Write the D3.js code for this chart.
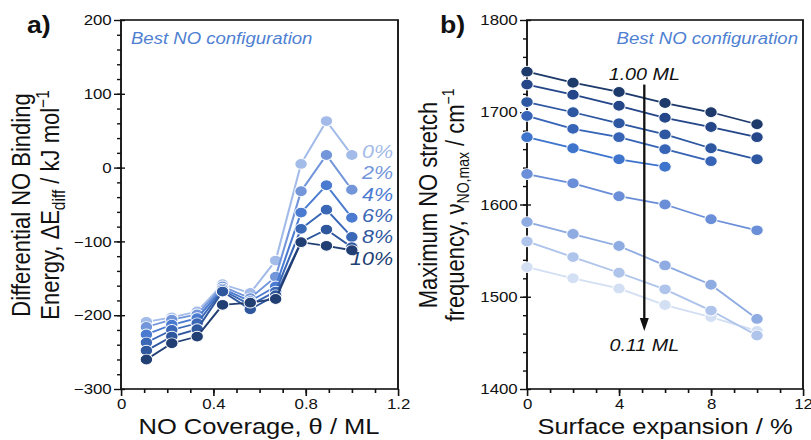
<!DOCTYPE html>
<html>
<head>
<meta charset="utf-8">
<script src="https://cdn.jsdelivr.net/npm/d3@7"></script>
<style>
  html, body { margin: 0; padding: 0; background: #fff; }
  svg { display: block; }
  text { font-family: "Liberation Sans", Arial, sans-serif; fill: #111; }
  .tick text { font-size: 14.5px; }
  .title { font-size: 22px; }
  .note { font-style: italic; }
</style>
</head>
<body>
<svg id="plot"></svg>
<script>
// the source figure is stretched sideways, so draw in a narrower box and let viewBox stretch it
var sx = 1.16;
var width = 811 / sx;
var height = 440;

// panel a: differential binding energy vs coverage, one line per surface expansion
var coverage = [0.11, 0.22, 0.33, 0.44, 0.56, 0.67, 0.78, 0.89, 1.00];
var expansionLabels = ["0%", "2%", "4%", "6%", "8%", "10%"];
var energy0  = [-209, -203, -195, -158, -170, -126,    5,   63,   17];
var energy2  = [-216, -206, -199, -161, -177, -148,  -32,   17,  -30];
var energy4  = [-226, -213, -204, -164, -181, -161,  -61,  -24,  -68];
var energy6  = [-237, -220, -211, -166, -186, -168,  -83,  -57,  -94];
var energy8  = [-248, -229, -219, -168, -192, -173, -101,  -84, -108];
var energy10 = [-260, -238, -229, -186, -183, -178, -101, -106, -112];
var colorsA = ["#a3bbe8", "#7396da", "#4a7bd0", "#3a67b6", "#2f579e", "#223f74"];

// panel b: max NO stretch frequency vs surface expansion, one line per coverage
var expansion = [0, 2, 4, 6, 8, 10];
var coverageLabels = ["0.11", "0.22", "0.33", "0.44", "0.56", "0.67", "0.78", "0.89", "1.00"];
var freq011 = [1532, 1520, 1509, 1491, 1478, 1463];
var freq022 = [1560, 1543, 1526, 1508, 1485, 1458];
var freq033 = [1581, 1568, 1555, 1534, 1513, 1476];
var freq044 = [1633, 1623, 1609, 1600, 1584, 1572];
var freq056 = [1673, 1661, 1649, 1641];
var freq067 = [1696, 1682, 1673, 1660, 1647];
var freq078 = [1711, 1700, 1688, 1676, 1661, 1649];
var freq089 = [1730, 1719, 1707, 1694, 1684, 1673];
var freq100 = [1744, 1732, 1722, 1710, 1700, 1687];
var colorsB = ["#d3dff3", "#afc4eb", "#8eabe2", "#6a8fd8", "#3f74cd", "#3764b6", "#2d57a0", "#25478a", "#1d3a6b"];

var svg = d3.select("#plot")
    .attr("width", 811)
    .attr("height", height)
    .attr("viewBox", "0 0 " + width + " " + height)
    .attr("preserveAspectRatio", "none");

var plotTop = 20, plotBottom = 389;

var xa = d3.scaleLinear().domain([0, 1.2]).range([121 / sx, 398 / sx]);
var ya = d3.scaleLinear().domain([-300, 200]).range([plotBottom, plotTop]);
var xb = d3.scaleLinear().domain([0, 12]).range([527 / sx, 803 / sx]);
var yb = d3.scaleLinear().domain([1400, 1800]).range([plotBottom, plotTop]);

function drawFrame(x, y, xMajor, xMinor, yMajor, yMinor, xFmt) {
    var g = svg.append("g");
    // minor ticks first, no labels
    g.append("g")
        .attr("transform", "translate(0," + plotBottom + ")")
        .call(d3.axisBottom(x).tickValues(xMinor).tickSize(4).tickFormat(""));
    g.append("g")
        .attr("transform", "translate(" + x.range()[0] + ",0)")
        .call(d3.axisLeft(y).tickValues(yMinor).tickSize(4 / sx).tickFormat(""));
    var xAxis = g.append("g")
        .attr("transform", "translate(0," + plotBottom + ")")
        .call(d3.axisBottom(x).tickValues(xMajor).tickSize(7).tickPadding(3).tickFormat(xFmt));
    var yAxis = g.append("g")
        .attr("transform", "translate(" + x.range()[0] + ",0)")
        .call(d3.axisLeft(y).tickValues(yMajor).tickSize(7 / sx).tickPadding(2).tickFormat(d3.format("d")));
    // major y ticks poke into the plot a little
    yAxis.selectAll(".tick line").attr("x1", 4 / sx);
    yAxis.selectAll(".tick text").text(function (d) { return d < 0 ? "\u2212" + Math.abs(d) : d; });
    g.selectAll(".domain").remove();
    g.selectAll("line").attr("stroke", "#111").attr("stroke-width", 1.4);
    g.selectAll(".tick text").attr("fill", "#111");
    g.append("rect")
        .attr("x", x.range()[0])
        .attr("y", plotTop)
        .attr("width", x.range()[1] - x.range()[0])
        .attr("height", plotBottom - plotTop)
        .attr("fill", "none")
        .attr("stroke", "#111")
        .attr("stroke-width", 1.6);
}

function drawSeries(x, y, xs, ys, color) {
    var pts = ys.map(function (v, i) { return [xs[i], v]; });
    var line = d3.line().x(function (d) { return x(d[0]); }).y(function (d) { return y(d[1]); });
    svg.append("path")
        .datum(pts)
        .attr("d", line)
        .attr("fill", "none")
        .attr("stroke", color)
        .attr("stroke-width", 1.8);
    svg.append("g").selectAll("circle")
        .data(pts)
        .enter()
        .append("circle")
        .attr("cx", function (d) { return x(d[0]); })
        .attr("cy", function (d) { return y(d[1]); })
        .attr("r", 5.4)
        .attr("fill", color)
        .attr("stroke", "#fff")
        .attr("stroke-width", 0.9);
}

// ---- panel a ----
drawFrame(xa, ya, [0, 0.4, 0.8, 1.2], d3.range(1, 12).map(function (i) { return i / 10; }),
    d3.range(-300, 201, 100), d3.range(-280, 200, 20), function (d) { return d === 0 ? "0" : d3.format(".1f")(d); });

var seriesA = [energy0, energy2, energy4, energy6, energy8, energy10];
seriesA.forEach(function (s, i) { drawSeries(xa, ya, coverage, s, colorsA[i]); });

var pctY = [158, 179, 201, 222, 243, 265];
svg.append("g").selectAll("text")
    .data(expansionLabels)
    .enter()
    .append("text")
    .attr("class", "note")
    .attr("x", 393 / sx)
    .attr("y", function (d, i) { return pctY[i]; })
    .attr("text-anchor", "end")
    .attr("font-size", 18.5)
    .style("fill", function (d, i) { return colorsA[i]; })
    .text(function (d) { return d; });

svg.append("text")
    .attr("class", "note")
    .attr("x", 131 / sx)
    .attr("y", 44)
    .attr("font-size", 16)
    .style("fill", "#4f7fd2")
    .text("Best NO configuration");

svg.append("text")
    .attr("class", "title")
    .attr("x", 259 / sx)
    .attr("y", 434)
    .attr("text-anchor", "middle")
    .text("NO Coverage, \u03b8 / ML");

var ta = svg.append("text")
    .attr("class", "title")
    .attr("font-size", 24)
    .attr("transform", "translate(" + (30 / sx) + ",205) rotate(-90)")
    .attr("text-anchor", "middle");
ta.append("tspan").attr("x", 0).attr("dy", 0).text("Differential NO Binding");
ta.append("tspan").attr("x", 0).attr("dy", 25).text("Energy, \u0394E");
ta.append("tspan").attr("font-size", 15.5).attr("dy", 5).text("diff");
ta.append("tspan").attr("dy", -5).text(" / kJ mol");
ta.append("tspan").attr("font-size", 15.5).attr("dy", -9).text("\u22121");

svg.append("text")
    .attr("x", 27 / sx)
    .attr("y", 33)
    .attr("font-size", 23)
    .attr("font-weight", "bold")
    .text("a)");

// ---- panel b ----
drawFrame(xb, yb, [0, 4, 8, 12], d3.range(1, 12), d3.range(1400, 1801, 100), d3.range(1420, 1800, 20), d3.format("d"));

var seriesB = [freq011, freq022, freq033, freq044, freq056, freq067, freq078, freq089, freq100];
seriesB.forEach(function (s, i) { drawSeries(xb, yb, expansion, s, colorsB[i]); });

// coverage arrow from 1.00 ML down to 0.11 ML
var arrowX = xb(5.1);
svg.append("line")
    .attr("x1", arrowX).attr("x2", arrowX)
    .attr("y1", yb(1730)).attr("y2", yb(1475))
    .attr("stroke", "#111")
    .attr("stroke-width", 2);
svg.append("path")
    .attr("d", "M" + (arrowX - 4.5 / sx) + "," + yb(1477) + "L" + (arrowX + 4.5 / sx) + "," + yb(1477) + "L" + arrowX + "," + yb(1463) + "Z")
    .attr("fill", "#111");
svg.append("text")
    .attr("class", "note")
    .attr("x", arrowX)
    .attr("y", yb(1735))
    .attr("text-anchor", "middle")
    .attr("font-size", 17)
    .text(coverageLabels[8] + " ML");
svg.append("text")
    .attr("class", "note")
    .attr("x", arrowX)
    .attr("y", yb(1441))
    .attr("text-anchor", "middle")
    .attr("font-size", 17)
    .text(coverageLabels[0] + " ML");

svg.append("text")
    .attr("class", "note")
    .attr("x", 798 / sx)
    .attr("y", 44)
    .attr("text-anchor", "end")
    .attr("font-size", 16)
    .style("fill", "#4f7fd2")
    .text("Best NO configuration");

svg.append("text")
    .attr("class", "title")
    .attr("x", 665 / sx)
    .attr("y", 434)
    .attr("text-anchor", "middle")
    .text("Surface expansion / %");

var tb = svg.append("text")
    .attr("class", "title")
    .attr("transform", "translate(" + (437 / sx) + ",205) rotate(-90)")
    .attr("text-anchor", "middle");
tb.append("tspan").attr("x", 0).attr("dy", 0).text("Maximum NO stretch");
tb.append("tspan").attr("x", 0).attr("dy", 23).text("frequency, \u03bd");
tb.append("tspan").attr("font-size", 14).attr("dy", 5).text("NO,max");
tb.append("tspan").attr("dy", -5).text(" / cm");
tb.append("tspan").attr("font-size", 14).attr("dy", -8).text("\u22121");

svg.append("text")
    .attr("x", 440 / sx)
    .attr("y", 33)
    .attr("font-size", 23)
    .attr("font-weight", "bold")
    .text("b)");
</script>
</body>
</html>
